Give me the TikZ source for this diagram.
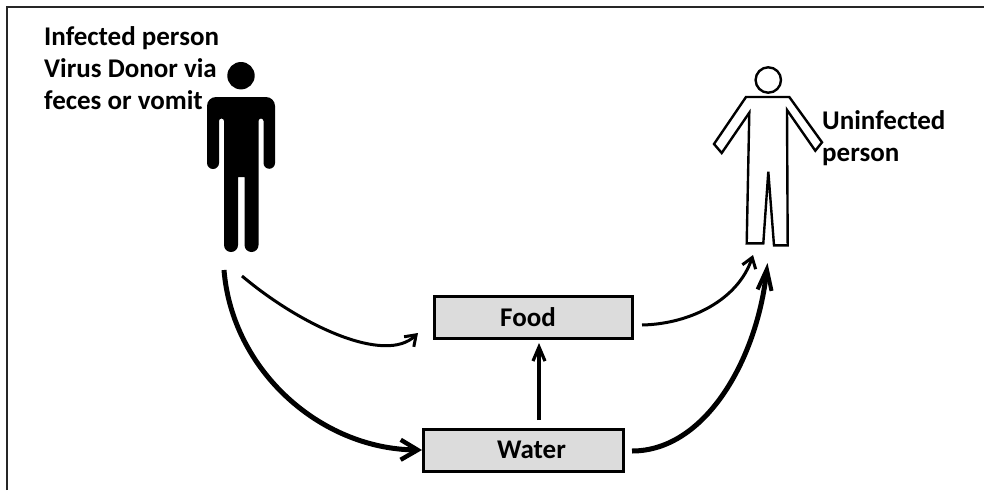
\documentclass[tikz,border=0pt]{standalone}
\usepackage{fontspec}
\setmainfont{Carlito}
\usetikzlibrary{arrows.meta}
\definecolor{boxgray}{HTML}{DCDCDC}
\tikzset{
  x=1pt,y=-1pt,
  lbl/.style={font=\fontsize{27}{32.3}\selectfont\bfseries,inner sep=0pt,align=left,text=black},
  boxn/.style={draw=black,fill=boxgray,line width=3pt,inner sep=0pt,font=\fontsize{27}{30}\selectfont\bfseries},
  thin arrow/.style={line width=3pt,-{Straight Barb[length=10pt,width=14pt,line width=3pt]}},
  mid arrow/.style={line width=3.2pt,-{Straight Barb[length=14pt,width=12pt,line width=3.2pt]}},
  thick arrow/.style={line width=5pt,-{Straight Barb[length=17pt,width=20pt,line width=4.4pt]}},
  tall arrow/.style={line width=5pt,-{Straight Barb[length=21pt,width=14pt,line width=4pt]}},
  outline/.style={draw=black,line width=2.4pt,line join=miter}
}
\begin{document}
\begin{tikzpicture}
\useasboundingbox (0,0) rectangle (984,490);
\fill[white] (0,0) rectangle (984,490);
% frame
\coordinate (fa) at (7,490);
\coordinate (fb) at (7,7);
\coordinate (fc) at (984,7);
\draw[line width=1.6pt,draw=black!85] (fa) -- (fb) -- (fc);
% infected person
\fill[black] (241,75.7) circle (13.7);
\fill[black] (207,106) arc (180:270:9) -- (266,97) arc (270:360:9) -- (275,163)
  arc (0:180:5.75) -- (263.5,121) arc (0:-180:2.5) -- (258.5,245)
  arc (0:180:7) -- (244.5,177) -- (238,177) -- (238,245) arc (0:180:7)
  -- (224,121) arc (0:-180:2.5) -- (219,163) arc (0:180:6) -- cycle;
% uninfected person
\draw[outline] (768.3,80) circle (12.7);
\draw[outline] (768.3,171.7) -- (763.3,243.3) -- (746.7,243.3) -- (749.3,112.7) -- (721.7,153) -- (714,144) -- (746,97) -- (789.3,97) -- (822,142.3) -- (815.3,150.7) -- (787,110) -- (787.7,245.3) -- (774,245.3) -- cycle;
% labels
\node[lbl,anchor=north west] (inf) at (44,26) {Infected person\\Virus Donor via\\feces or vomit};
\node[lbl,anchor=north west] (uninf) at (822,110) {Uninfected\\person};
% boxes
\node[boxn,minimum width=198pt,minimum height=42pt] (food) at (533,317) {\raisebox{-1pt}{Food}\hspace*{10pt}};
\node[boxn,minimum width=200pt,minimum height=42pt] (water) at (523.5,450) {\hspace*{16pt}\raisebox{-1.5pt}{Water}};
% connectors
\coordinate (s1) at (242,276);
\coordinate (s2) at (224,270);
\coordinate (f1) at (418,333);
\coordinate (t1) at (642,325);
\coordinate (u1) at (753,255);
\coordinate (t2) at (632,451);
\coordinate (u2) at (767.5,263);
\coordinate (wt) at (539,420);
\coordinate (ft) at (539,343);
\draw[thin arrow] (s1) .. controls (300,325) and (385,365) .. (f1);
\draw[thick arrow] (s2) .. controls (232,370) and (320,449) .. (water.west);
\draw[mid arrow] (wt) -- (ft);
\draw[thin arrow] (t1) .. controls (690,324) and (738,300) .. (u1);
\draw[tall arrow] (t2) .. controls (705,451) and (757,360) .. (u2);
\end{tikzpicture}
\end{document}
